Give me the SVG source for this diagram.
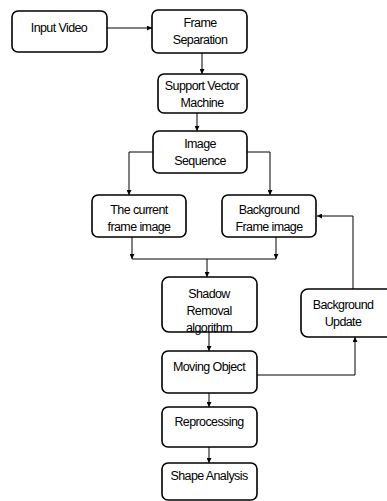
<svg xmlns="http://www.w3.org/2000/svg" width="387" height="501" viewBox="0 0 387 501">
<defs>
<marker id="ah" viewBox="0 0 10 10" refX="10" refY="5" markerWidth="5" markerHeight="5" orient="auto" markerUnits="userSpaceOnUse">
<path d="M0,0 L10,5 L0,10 z" fill="#000"/>
</marker>
</defs>
<style>
.box{fill:#fff;stroke:#000;stroke-width:1.6}
.t{font-family:"Liberation Sans",Arial,sans-serif;font-size:12.5px;letter-spacing:-0.6px;fill:#000;text-anchor:middle}
.c{fill:none;stroke:#000;stroke-width:1}
.a{marker-end:url(#ah)}
</style>
<rect width="387" height="501" fill="#fff"/>
<g id="connectors">
<path class="c a" d="M107,28 H152"/>
<path class="c a" d="M202,53 V74"/>
<path class="c a" d="M197,113 V131"/>
<path class="c a" d="M153,152 H129 V195"/>
<path class="c a" d="M247,152 H270 V195"/>
<path class="c a" d="M132,237 V259"/>
<path class="c a" d="M276,237 V259"/>
<path class="c" d="M132,259 H276"/>
<path class="c a" d="M207,259 V277"/>
<path class="c a" d="M209,332 V351"/>
<path class="c a" d="M257,375 H355 V337"/>
<path class="c a" d="M353,289 V216 H317"/>
<path class="c a" d="M209,393 V407"/>
<path class="c a" d="M209,447 V463"/>
</g>
<g id="n1"><rect class="box" x="12" y="11" width="95" height="41" rx="6"/><text class="t" x="59" y="32">Input Video</text></g>
<g id="n2"><rect class="box" x="152" y="10" width="95" height="43" rx="6"/><text class="t" x="200" y="27">Frame</text><text class="t" x="200" y="44">Separation</text></g>
<g id="n3"><rect class="box" x="158" y="74" width="89" height="39" rx="6"/><text class="t" x="202" y="90">Support Vector</text><text class="t" x="202" y="107">Machine</text></g>
<g id="n4"><rect class="box" x="153" y="131" width="94" height="42" rx="6"/><text class="t" x="200" y="148">Image</text><text class="t" x="200" y="165">Sequence</text></g>
<g id="n5"><rect class="box" x="92" y="195" width="94" height="42" rx="6"/><text class="t" x="139" y="214">The current</text><text class="t" x="139" y="231">frame image</text></g>
<g id="n6"><rect class="box" x="222" y="195" width="94" height="42" rx="6"/><text class="t" x="269" y="214">Background</text><text class="t" x="269" y="231">Frame image</text></g>
<g id="n7"><rect class="box" x="162" y="277" width="95" height="55" rx="7"/><text class="t" x="209" y="298">Shadow</text><text class="t" x="209" y="315">Removal</text><text class="t" x="209" y="332">algorithm</text></g>
<g id="n8"><rect class="box" x="301" y="289" width="92" height="48" rx="7"/><text class="t" x="343" y="309">Background</text><text class="t" x="343" y="326">Update</text></g>
<g id="n9"><rect class="box" x="162" y="351" width="95" height="42" rx="6"/><text class="t" x="209" y="371">Moving Object</text></g>
<g id="n10"><rect class="box" x="162" y="407" width="95" height="40" rx="6"/><text class="t" x="209" y="426">Reprocessing</text></g>
<g id="n11"><rect class="box" x="162" y="463" width="95" height="37" rx="6"/><text class="t" x="209" y="480">Shape Analysis</text></g>
</svg>
